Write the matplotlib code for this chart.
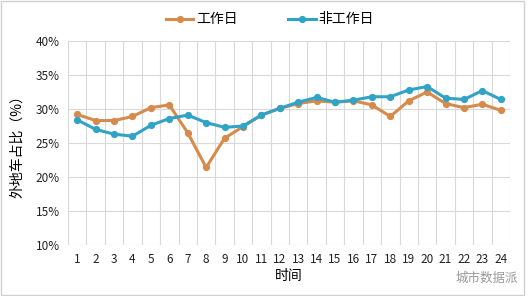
import matplotlib
matplotlib.use("Agg")
import matplotlib.pyplot as plt
from matplotlib.ticker import FuncFormatter, MultipleLocator
from matplotlib.patches import Rectangle

plt.rcParams['font.family'] = ['Noto Sans CJK SC', 'DejaVu Sans']

hours = list(range(1, 25))
workday = [29.2, 28.3, 28.3, 28.9, 30.2, 30.6, 26.5, 21.4, 25.7, 27.4, 29.1, 30.1,
           30.8, 31.2, 31.0, 31.2, 30.6, 28.9, 31.2, 32.5, 30.8, 30.2, 30.7, 29.8]
nonworkday = [28.4, 27.0, 26.3, 26.0, 27.6, 28.6, 29.1, 28.0, 27.3, 27.5, 29.1, 30.1,
              31.0, 31.7, 31.0, 31.3, 31.8, 31.8, 32.8, 33.3, 31.6, 31.4, 32.7, 31.4]
series_names = ['工作日', '非工作日']
colors = ['#D68A4C', '#31A3C6']

fig = plt.figure(figsize=(5.31, 2.96), dpi=100)
ax = fig.add_axes([68/531, 1-245/296, (510-68)/531, (245-41)/296])

for vals, name, c in zip([workday, nonworkday], series_names, colors):
    ax.plot(hours, vals, color=c, lw=2.2, marker='o', ms=4.2, label=name, zorder=3)

ax.set_xlim(0.5, 24.5)
ax.set_ylim(10, 40)
ax.yaxis.set_major_locator(MultipleLocator(5))
ax.yaxis.set_major_formatter(FuncFormatter(lambda v, p: f"{v:.0f}%"))
ax.set_xticks(hours)
ax.set_xticks([h + 0.5 for h in range(0, 25)], minor=True)
ax.grid(True, which='minor', axis='x', color='#D9D9D9', lw=0.8)
ax.grid(True, which='major', axis='y', color='#D9D9D9', lw=0.8)
ax.tick_params(axis='both', which='both', length=0, labelsize=8.5, colors='#222222')
ax.tick_params(axis='x', pad=6)
ax.tick_params(axis='y', pad=6)
for s in ax.spines.values():
    s.set_visible(False)
ax.set_axisbelow(True)

ax.set_ylabel('外地车占比（%）', fontsize=10, labelpad=8)
ax.set_xlabel('时间', fontsize=10, labelpad=2)

fig.legend(loc='upper center', bbox_to_anchor=(0.508, 1.0), ncol=2, frameon=False,
           fontsize=10, handlelength=2.0, columnspacing=3.6, handletextpad=0.2)

fig.text(0.975, 0.06, '城市数据派', fontsize=9, color='#999999', ha='right', va='center')
fig.patches.append(Rectangle((0.002, 0.003), 0.985, 0.994, transform=fig.transFigure,
                             fill=False, edgecolor='#D0D0D0', lw=1))

fig.savefig('out.png', dpi=100)
